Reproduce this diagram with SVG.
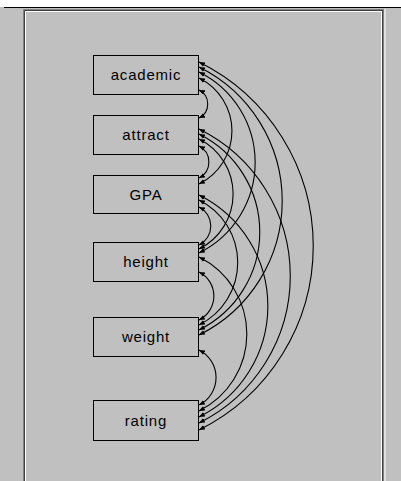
<svg xmlns="http://www.w3.org/2000/svg" width="401" height="481" viewBox="0 0 401 481">
<style>
.box{fill:#c0c0c0;stroke:#000;stroke-width:1}
.lbl{font-family:"Liberation Sans",Arial,sans-serif;font-size:15px;letter-spacing:0.8px;fill:#000;text-anchor:middle}
.cv{fill:none;stroke:#000;stroke-width:1.1;marker-start:url(#ah);marker-end:url(#ah)}
</style>
<defs>
<marker id="ah" markerUnits="userSpaceOnUse" markerWidth="7" markerHeight="5" refX="6" refY="2.5" orient="auto-start-reverse">
<path d="M0,0 L6,2.5 L0,5 z" fill="#000"/>
</marker>
</defs>
<rect x="0" y="0" width="401" height="481" fill="#c0c0c0"/>
<rect x="0" y="0" width="401" height="7" fill="#ffffff"/>
<line x1="4" y1="7.5" x2="401" y2="7.5" stroke="#000" stroke-width="1.2"/>
<g id="frame" fill="none">
<path d="M23.5,481 V9.5 H384" stroke="#808080"/>
<path d="M24.5,481 V10.5 H383" stroke="#404040"/>
<path d="M25.5,481 V11.5 H381" stroke="#ffffff"/>
<path d="M381.5,11 V481" stroke="#ffffff"/>
<path d="M382.5,10 V481" stroke="#404040"/>
<path d="M383.5,10 V481" stroke="#808080"/>
<path d="M385,9 V481" stroke="#ffffff"/>
</g>
<g id="connectors">
<path class="cv" d="M199,90 A15.6,15.6 0 0 1 199,118"/>
<path class="cv" d="M199,78 A59.1,59.1 0 0 1 199,184"/>
<path class="cv" d="M199,72 A101,101 0 0 1 199,253"/>
<path class="cv" d="M199,67 A149.5,149.5 0 0 1 199,335"/>
<path class="cv" d="M199,62 A205.3,205.3 0 0 1 199,430"/>
<path class="cv" d="M199,146 A17.9,17.9 0 0 1 199,178"/>
<path class="cv" d="M199,139 A61.4,61.4 0 0 1 199,249"/>
<path class="cv" d="M199,134 A109.4,109.4 0 0 1 199,330"/>
<path class="cv" d="M199,129 A164,164 0 0 1 199,423"/>
<path class="cv" d="M199,207 A21.2,21.2 0 0 1 199,245"/>
<path class="cv" d="M199,200 A69.8,69.8 0 0 1 199,325"/>
<path class="cv" d="M199,195 A123.9,123.9 0 0 1 199,417"/>
<path class="cv" d="M199,272 A26.8,26.8 0 0 1 199,320"/>
<path class="cv" d="M199,257 A85.9,85.9 0 0 1 199,411"/>
<path class="cv" d="M199,350 A30.7,30.7 0 0 1 199,405"/>
</g>
<g id="academic"><rect class="box" x="93.5" y="55.5" width="105" height="39"/><text class="lbl" x="146" y="80">academic</text></g>
<g id="attract"><rect class="box" x="93.5" y="115.5" width="105" height="39"/><text class="lbl" x="146" y="140">attract</text></g>
<g id="GPA"><rect class="box" x="93.5" y="175.5" width="105" height="38"/><text class="lbl" x="146" y="200">GPA</text></g>
<g id="height"><rect class="box" x="93.5" y="242.5" width="105" height="39"/><text class="lbl" x="146" y="267">height</text></g>
<g id="weight"><rect class="box" x="93.5" y="317.5" width="105" height="39"/><text class="lbl" x="146" y="342">weight</text></g>
<g id="rating"><rect class="box" x="93.5" y="400.5" width="105" height="40"/><text class="lbl" x="146" y="426">rating</text></g>
</svg>
